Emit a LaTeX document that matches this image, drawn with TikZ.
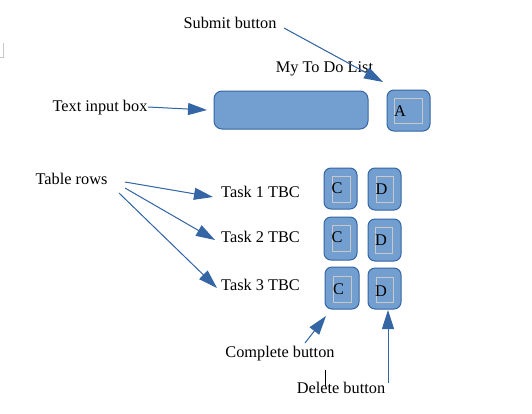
\documentclass[tikz,border=0pt]{standalone}
\usepackage{fontspec}
\setmainfont{Liberation Serif}
\usetikzlibrary{arrows.meta}
\definecolor{btnfill}{HTML}{729FCF}
\definecolor{btnline}{HTML}{3465A4}
\definecolor{innerline}{HTML}{C8C8C8}
\begin{document}
\begin{tikzpicture}[x=1pt,y=-1pt,
  lbl/.style={font=\fontsize{16.3}{19}\selectfont, inner sep=0pt, anchor=base},
  btn/.style={draw=btnline, fill=btnfill, line width=1pt, rounded corners=7pt, inner sep=0pt},
  innerbox/.style={draw=innerline, line width=0.8pt, inner sep=0pt},
  letter/.style={font=\fontsize{16.3}{19}\selectfont, inner sep=0pt},
  arr/.style={draw=btnline, line width=1pt, -{Triangle[length=19pt,width=12pt]}, fill=btnline}
]
\useasboundingbox (0,0) rectangle (532,413);
% grey corner mark
\draw[innerline, line width=0.8pt] (3,43) -- (3,57) -- (0,57);

% labels
\node[lbl] (sublbl) at (230,28) {Submit button};
\node[lbl] (title) at (324.5,72) {My To Do List};
\node[lbl] (tinlbl) at (100,111) {Text input box};
\node[lbl] (rowslbl) at (71.5,184) {Table rows};
\node[lbl] (task1) at (260.5,197) {Task 1 TBC};
\node[lbl] (task2) at (260.5,242) {Task 2 TBC};
\node[lbl] (task3) at (260.5,290) {Task 3 TBC};
\node[lbl] (complbl) at (280,357) {Complete button};
\node[lbl] (dellbl) at (341,393) {Delete button};

% input box and submit
\node[btn, rounded corners=8pt, minimum width=154pt, minimum height=38pt] (inbox) at (291,110) {};
\node[btn, minimum width=43pt, minimum height=41pt] (abtn) at (408.5,110.5) {};
\node[innerbox, minimum width=28pt, minimum height=25pt] (ain) at (408,110.5) {};
\node[letter] (aletter) at (400,111) {A};

% row buttons
\node[btn, minimum width=33pt, minimum height=41pt] (c1) at (340.5,188.5) {};
\node[innerbox, minimum width=18pt, minimum height=26pt] (c1in) at (341,189) {};
\node[letter] at (337,188.5) {C};
\node[btn, minimum width=33pt, minimum height=42pt] (d1) at (384.5,189) {};
\node[innerbox, minimum width=17pt, minimum height=26pt] (d1in) at (384.5,189) {};
\node[letter] at (381.5,189) {D};

\node[btn, minimum width=33pt, minimum height=43pt] (c2) at (340.5,238.5) {};
\node[innerbox, minimum width=18pt, minimum height=26pt] (c2in) at (341,238) {};
\node[letter] at (337,237.5) {C};
\node[btn, minimum width=33pt, minimum height=42pt] (d2) at (384.5,240) {};
\node[innerbox, minimum width=17pt, minimum height=26pt] (d2in) at (383.5,240) {};
\node[letter] at (381,240.5) {D};

\node[btn, minimum width=34pt, minimum height=42pt] (c3) at (342,288) {};
\node[innerbox, minimum width=18pt, minimum height=26pt] (c3in) at (342,289) {};
\node[letter] at (338.5,289) {C};
\node[btn, minimum width=33pt, minimum height=41pt] (d3) at (384.5,288.5) {};
\node[innerbox, minimum width=17pt, minimum height=25pt] (d3in) at (384.5,289.5) {};
\node[letter] at (381,291) {D};

% arrow endpoints
\coordinate (s0) at (284,28);   \coordinate (s1) at (383,82);
\coordinate (t0) at (148,107);  \coordinate (t1) at (207,110);
\coordinate (r10) at (125,182); \coordinate (r11) at (213,197);
\coordinate (r20) at (125,188); \coordinate (r21) at (215,240);
\coordinate (r30) at (119,193); \coordinate (r31) at (217,288);
\coordinate (k0) at (305,343);  \coordinate (k1) at (326,316);
\coordinate (e0) at (388,383);  \coordinate (e1) at (388,310);

\draw[arr] (s0) -- (s1);
\draw[arr] (t0) -- (t1);
\draw[arr] (r10) -- (r11);
\draw[arr] (r20) -- (r21);
\draw[arr] (r30) -- (r31);
\draw[arr] (k0) -- (k1);
\draw[arr] (e0) -- (e1);

% text cursor mark
\coordinate (m0) at (325,370); \coordinate (m1) at (325,386);
\draw[black, line width=0.8pt] (m0) -- (m1);
\end{tikzpicture}
\end{document}
